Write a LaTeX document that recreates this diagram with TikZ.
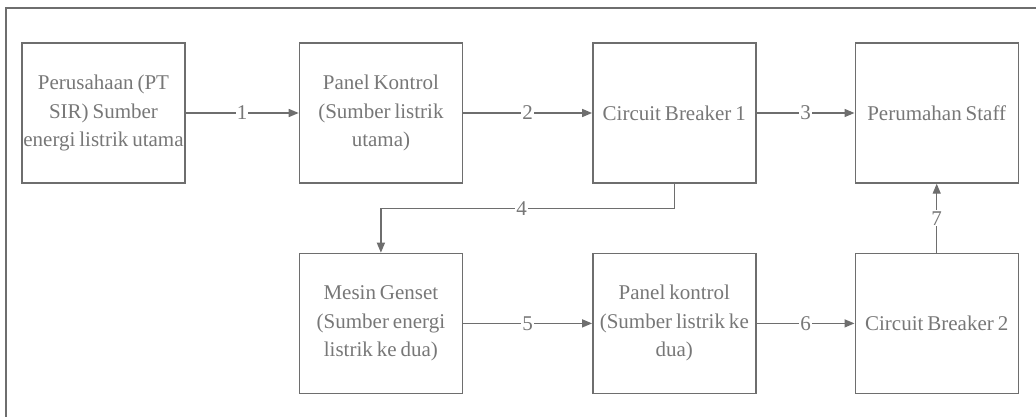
\documentclass[tikz,border=0pt]{standalone}
\usepackage{fontspec}
\setmainfont[WordSpace=0.75]{Liberation Serif}
\usetikzlibrary{arrows.meta,positioning}
\definecolor{linegray}{HTML}{6E6E6E}
\definecolor{textgray}{HTML}{777777}

\begin{document}
\begin{tikzpicture}[font=\fontsize{21}{28.5}\selectfont, text=textgray,
  block/.style={draw=linegray, line width=1.4pt, minimum width=163pt, minimum height=140pt, inner sep=0pt, align=center},
  arrow/.style={-{Triangle[length=10pt,width=8pt]}, line width=1.4pt, draw=linegray},
  num/.style={fill=white, inner sep=1pt, text=textgray}]
  \useasboundingbox (0,0) rectangle (1036pt,-417pt);
  % outer frame
  \draw[linegray, line width=1.5pt] (1036pt,-8pt) -- (6pt,-8pt) -- (6pt,-417pt);
  % top row
  \node[block] (pt) at (103.5pt,-113pt) {Perusahaan (PT\\SIR) Sumber\\energi listrik utama};
  \node[block, right=113pt of pt] (panel1) {Panel Kontrol\\(Sumber listrik\\utama)};
  \node[block, right=129pt of panel1] (cb1) {Circuit Breaker 1};
  \node[block, right=98pt of cb1] (staff) {Perumahan Staff};
  % bottom row
  \node[block, below=69pt of panel1] (genset) {Mesin Genset\\(Sumber energi\\listrik ke dua)};
  \node[block, below=69pt of cb1] (panel2) {Panel kontrol\\(Sumber listrik ke\\dua)};
  \node[block, below=69pt of staff] (cb2) {Circuit Breaker 2};
  % connectors
  \draw[arrow] (pt) -- node[num]{1} (panel1);
  \draw[arrow] (panel1) -- node[num]{2} (cb1);
  \draw[arrow] (cb1) -- node[num]{3} (staff);
  \draw[arrow] (cb1.south) -- ++(0,-25pt) -| node[num, pos=0.26]{4} (genset.north);
  \draw[arrow] (genset) -- node[num]{5} (panel2);
  \draw[arrow] (panel2) -- node[num]{6} (cb2);
  \draw[arrow] (cb2) -- node[num]{7} (staff);
\end{tikzpicture}
\end{document}
